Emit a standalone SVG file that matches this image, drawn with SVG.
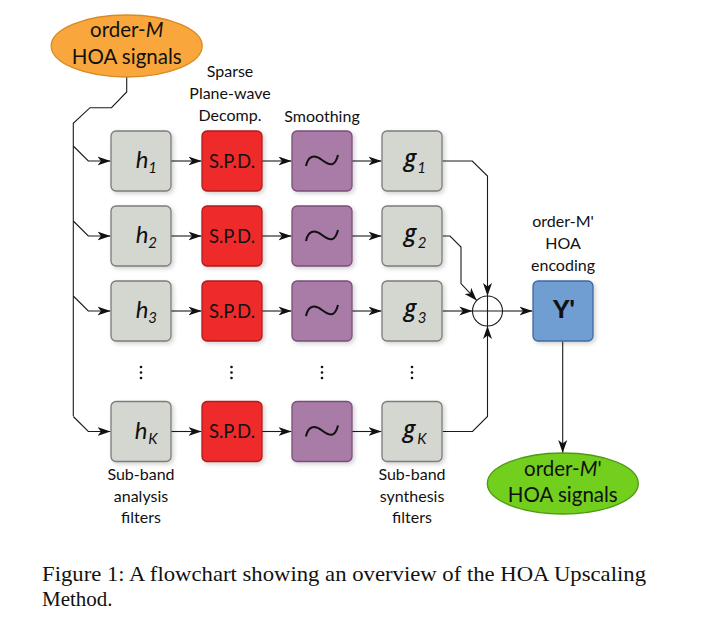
<svg xmlns="http://www.w3.org/2000/svg" width="702" height="625" viewBox="0 0 702 625">
<defs>
<style>
.t{font-family:Lato,"Open Sans","DejaVu Sans",sans-serif;fill:#111;text-anchor:middle}
.lbl{font-size:16px}
.ell{font-size:20.5px}
.box{stroke-width:1.3}
.gray{fill:#d4d6d0;stroke:#7c7c7a}
.red{fill:#ee2a2a;stroke:#b01c1c}
.pur{fill:#a97ca8;stroke:#7a4e78}
.blue{fill:#6f9ed2;stroke:#3f6a9e}
.ln{fill:none;stroke:#1a1a1a;stroke-width:1.1}
.bl{font-size:24px;font-style:italic}
.gg{font-family:"Open Sans",Lato,sans-serif;font-size:23px;font-style:italic;font-weight:600}
.sub{font-size:15px;font-style:italic}
.spd{font-size:18.5px}
.tl{fill:none;stroke:#111;stroke-width:2}
.cap{font-family:"Liberation Serif","Times New Roman",serif;font-size:21px;fill:#111}
</style>
<marker id="ar" markerUnits="userSpaceOnUse" markerWidth="14" markerHeight="10" refX="13" refY="5" orient="auto">
<path d="M0,0.5 L13,5 L0,9.5 L3.5,5 Z" fill="#111"/>
</marker>
<filter id="sh" x="-20%" y="-20%" width="150%" height="150%">
<feDropShadow dx="2" dy="2" stdDeviation="2" flood-color="#000" flood-opacity="0.18"/>
</filter>
</defs>
<rect width="702" height="625" fill="#fff"/>

<g id="connectors">
<path class="ln" d="M126.7,77 V92 L111.5,107.7 H90 L73.3,123.3 V416"/>
<path class="ln" d="M73.3,146 L88.3,161 H110.5" marker-end="url(#ar)"/>
<path class="ln" d="M73.3,221 L88.3,236 H110.5" marker-end="url(#ar)"/>
<path class="ln" d="M73.3,296 L88.3,311 H110.5" marker-end="url(#ar)"/>
<path class="ln" d="M73.3,416.5 L88.3,431.5 H110.5" marker-end="url(#ar)"/>
<g>
<path class="ln" d="M171,161 H201.5" marker-end="url(#ar)"/>
<path class="ln" d="M262,161 H291.5" marker-end="url(#ar)"/>
<path class="ln" d="M352,161 H381.5" marker-end="url(#ar)"/>
<path class="ln" d="M171,236 H201.5" marker-end="url(#ar)"/>
<path class="ln" d="M262,236 H291.5" marker-end="url(#ar)"/>
<path class="ln" d="M352,236 H381.5" marker-end="url(#ar)"/>
<path class="ln" d="M171,311 H201.5" marker-end="url(#ar)"/>
<path class="ln" d="M262,311 H291.5" marker-end="url(#ar)"/>
<path class="ln" d="M352,311 H381.5" marker-end="url(#ar)"/>
<path class="ln" d="M171,431.5 H201.5" marker-end="url(#ar)"/>
<path class="ln" d="M262,431.5 H291.5" marker-end="url(#ar)"/>
<path class="ln" d="M352,431.5 H381.5" marker-end="url(#ar)"/>
</g>
<path class="ln" d="M442.5,161 H472.3 L487.5,176 V296" marker-end="url(#ar)"/>
<path class="ln" d="M442.5,236 H450 L461,247 V283.5 L476.7,300.4" marker-end="url(#ar)"/>
<path class="ln" d="M442.5,311 H472.3" marker-end="url(#ar)"/>
<path class="ln" d="M442.5,431.5 H472.5 L487.5,416.5 V326" marker-end="url(#ar)"/>
<path class="ln" d="M502.5,311 H532.5" marker-end="url(#ar)"/>
<path class="ln" d="M562.7,341.5 V453" marker-end="url(#ar)"/>
</g>

<g id="sum">
<circle cx="487.5" cy="311" r="15" fill="none" stroke="#1a1a1a" stroke-width="1.1"/>
<path class="ln" d="M472.5,311 H502.5 M487.5,296 V326"/>
</g>

<g id="input">
<ellipse cx="126.7" cy="46" rx="75.5" ry="31" fill="#f9a73c" stroke="#d98a22" stroke-width="1.3"/>
<text class="t ell" x="126.7" y="37">order-<tspan font-style="italic">M</tspan></text>
<text class="t ell" x="126.7" y="63.5">HOA signals</text>
</g>

<g id="labels">
<text class="t lbl" x="230" y="77">Sparse</text>
<text class="t lbl" x="230" y="99">Plane-wave</text>
<text class="t lbl" x="230" y="121">Decomp.</text>
<text class="t lbl" x="322" y="121.5">Smoothing</text>
<text class="t lbl" x="563" y="226.5">order-M'</text>
<text class="t lbl" x="563" y="248.5">HOA</text>
<text class="t lbl" x="563" y="270.5">encoding</text>
<text class="t lbl" x="141" y="479.5">Sub-band</text>
<text class="t lbl" x="141" y="502">analysis</text>
<text class="t lbl" x="141" y="523">filters</text>
<text class="t lbl" x="412" y="479.5">Sub-band</text>
<text class="t lbl" x="412" y="502">synthesis</text>
<text class="t lbl" x="412" y="523">filters</text>
</g>

<g id="dots" fill="#111">
<circle cx="141" cy="367" r="1.3"/><circle cx="141" cy="372.5" r="1.3"/><circle cx="141" cy="378" r="1.3"/>
<circle cx="231.5" cy="367" r="1.3"/><circle cx="231.5" cy="372.5" r="1.3"/><circle cx="231.5" cy="378" r="1.3"/>
<circle cx="322" cy="367" r="1.3"/><circle cx="322" cy="372.5" r="1.3"/><circle cx="322" cy="378" r="1.3"/>
<circle cx="412" cy="367" r="1.3"/><circle cx="412" cy="372.5" r="1.3"/><circle cx="412" cy="378" r="1.3"/>
</g>

<g id="h1"><rect class="box gray" x="111" y="131" width="60" height="60" rx="5" filter="url(#sh)"/><text class="t bl" x="142" y="168">h</text><text class="t sub" x="152.5" y="173">1</text></g>
<g id="h2"><rect class="box gray" x="111" y="206" width="60" height="60" rx="5" filter="url(#sh)"/><text class="t bl" x="142" y="243">h</text><text class="t sub" x="152.5" y="248">2</text></g>
<g id="h3"><rect class="box gray" x="111" y="281" width="60" height="60" rx="5" filter="url(#sh)"/><text class="t bl" x="142" y="318">h</text><text class="t sub" x="152.5" y="323">3</text></g>
<g id="hK"><rect class="box gray" x="111" y="401.5" width="60" height="60" rx="5" filter="url(#sh)"/><text class="t bl" x="141" y="438.5">h</text><text class="t sub" x="153" y="443.5">K</text></g>

<g id="spd1"><rect class="box red" x="202" y="131" width="60" height="60" rx="5" filter="url(#sh)"/><text class="t spd" x="232" y="167.5">S.P.D.</text></g>
<g id="spd2"><rect class="box red" x="202" y="206" width="60" height="60" rx="5" filter="url(#sh)"/><text class="t spd" x="232" y="242.5">S.P.D.</text></g>
<g id="spd3"><rect class="box red" x="202" y="281" width="60" height="60" rx="5" filter="url(#sh)"/><text class="t spd" x="232" y="317.5">S.P.D.</text></g>
<g id="spdK"><rect class="box red" x="202" y="401.5" width="60" height="60" rx="5" filter="url(#sh)"/><text class="t spd" x="232" y="438">S.P.D.</text></g>

<g id="sm1"><rect class="box pur" x="292" y="131" width="60" height="60" rx="5" filter="url(#sh)"/><path class="tl" d="M306,166 C308,156 314,154 322,160 S335,167 338,155"/></g>
<g id="sm2"><rect class="box pur" x="292" y="206" width="60" height="60" rx="5" filter="url(#sh)"/><path class="tl" d="M306,241 C308,231 314,229 322,235 S335,242 338,230"/></g>
<g id="sm3"><rect class="box pur" x="292" y="281" width="60" height="60" rx="5" filter="url(#sh)"/><path class="tl" d="M306,316 C308,306 314,304 322,310 S335,317 338,305"/></g>
<g id="smK"><rect class="box pur" x="292" y="401.5" width="60" height="60" rx="5" filter="url(#sh)"/><path class="tl" d="M306,436.5 C308,426.5 314,424.5 322,430.5 S335,437.5 338,425.5"/></g>

<g id="g1"><rect class="box gray" x="382" y="131" width="60" height="60" rx="5" filter="url(#sh)"/><text class="t gg" x="410" y="166">g</text><text class="t sub" x="421.5" y="173">1</text></g>
<g id="g2"><rect class="box gray" x="382" y="206" width="60" height="60" rx="5" filter="url(#sh)"/><text class="t gg" x="410" y="241">g</text><text class="t sub" x="422" y="248">2</text></g>
<g id="g3"><rect class="box gray" x="382" y="281" width="60" height="60" rx="5" filter="url(#sh)"/><text class="t gg" x="410" y="316">g</text><text class="t sub" x="422" y="323">3</text></g>
<g id="gK"><rect class="box gray" x="382" y="401.5" width="60" height="60" rx="5" filter="url(#sh)"/><text class="t gg" x="409" y="436.5">g</text><text class="t sub" x="422" y="443.5">K</text></g>

<g id="Y"><rect class="box blue" x="533" y="281" width="60" height="60" rx="5" filter="url(#sh)"/><text class="t" x="564" y="318" font-size="25" font-weight="900">Y'</text></g>

<g id="output">
<ellipse cx="562.8" cy="483.5" rx="75.5" ry="30.5" fill="#72cf1e" stroke="#4f9a12" stroke-width="1.3"/>
<text class="t ell" x="562.8" y="475.5">order-<tspan font-style="italic">M</tspan>'</text>
<text class="t ell" x="562.8" y="502">HOA signals</text>
</g>

<g id="caption">
<text class="cap" x="42" y="581" textLength="604" lengthAdjust="spacingAndGlyphs">Figure 1: A flowchart showing an overview of the HOA Upscaling</text>
<text class="cap" x="42" y="606">Method.</text>
</g>
</svg>
